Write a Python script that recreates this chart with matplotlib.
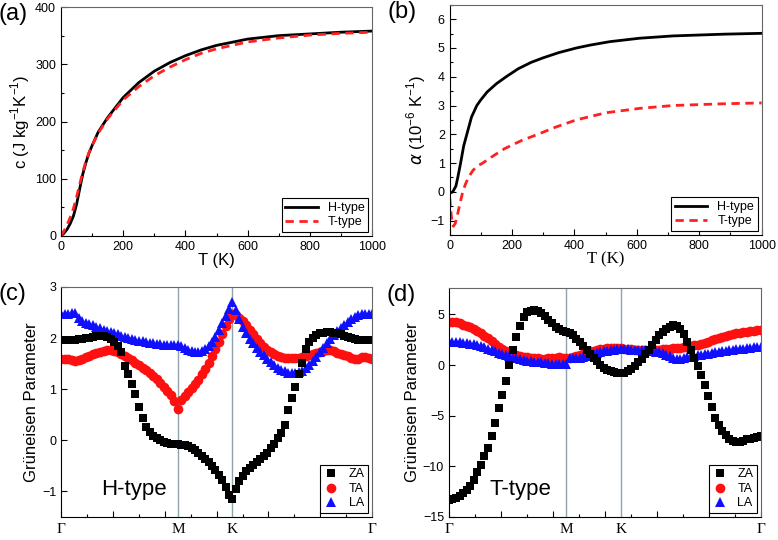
import numpy as np
import matplotlib.pyplot as plt
from matplotlib.ticker import MultipleLocator

plt.rcParams['font.family'] = ['Liberation Sans', 'DejaVu Sans']

# (a) specific heat
T_c = [0, 10, 20, 30, 40, 50, 60, 70, 80, 90, 100, 120, 150, 200, 250, 300, 350,
       400, 450, 500, 600, 700, 800, 900, 1000]
c_H = [0, 5, 12, 22, 35, 55, 82, 108, 128, 145, 158, 182, 207, 242, 268, 288, 303,
       315, 325, 333, 344, 350, 353, 356, 358]
c_T = [0, 9, 20, 33, 48, 68, 90, 112, 130, 146, 158, 180, 205, 238, 261, 280, 295,
       308, 319, 327, 339, 346, 351, 354, 356]

# (b) thermal expansion
T_aH = [0, 10, 20, 26, 35, 45, 55, 70, 87, 100, 120, 150, 181, 220, 261, 300, 350,
        406, 450, 513, 609, 716, 877, 1000]
a_H = [-0.05, 0.0, 0.2, 0.5, 1.0, 1.6, 2.0, 2.6, 3.0, 3.2, 3.47, 3.76, 4.0, 4.28,
       4.5, 4.66, 4.84, 5.0, 5.1, 5.22, 5.34, 5.42, 5.48, 5.51]
T_aT = [0, 4, 8, 12, 18, 25, 33, 42, 50, 60, 75, 90, 106, 140, 176, 230, 283, 340,
        406, 502, 609, 716, 877, 1000]
a_T = [-0.2, -0.7, -1.1, -1.2, -1.1, -0.8, -0.4, 0.0, 0.25, 0.5, 0.75, 0.9, 1.0,
       1.25, 1.5, 1.78, 2.0, 2.25, 2.5, 2.75, 2.9, 3.0, 3.06, 3.09]

# (c), (d) Grüneisen parameter along Γ-M-K-Γ (q-points per segment)
xM, xK = 0.376, 0.551
n1, n2, n3 = 34, 16, 40
q = np.concatenate([np.linspace(0, xM, n1),
                    np.linspace(xM, xK, n2 + 1)[1:],
                    np.linspace(xK, 1, n3 + 1)[1:]])

ZA_H = [1.96, 1.96, 1.96, 1.97, 1.97, 1.98, 1.99, 2.0, 2.01, 2.03, 2.04, 2.05, 2.04,
        2.02, 1.99, 1.93, 1.85, 1.72, 1.46, 1.29, 1.1, 0.9, 0.66, 0.44, 0.27, 0.16,
        0.09, 0.04, 0.0, -0.04, -0.06, -0.07, -0.08, -0.08,
        -0.09, -0.1, -0.12, -0.15, -0.19, -0.24, -0.3, -0.36, -0.43, -0.5, -0.58,
        -0.67, -0.78, -0.92, -1.06, -1.14,
        -0.95, -0.8, -0.69, -0.61, -0.55, -0.49, -0.43, -0.37, -0.31, -0.25, -0.16,
        -0.07, 0.04, 0.15, 0.3, 0.6, 0.82, 1.04, 1.3, 1.52, 1.78, 1.93, 2.01, 2.06,
        2.09, 2.1, 2.11, 2.11, 2.1, 2.09, 2.07, 2.05, 2.03, 2.01, 1.99, 1.97, 1.96,
        1.96, 1.96, 1.96]
TA_H = [1.6, 1.6, 1.59, 1.57, 1.55, 1.57, 1.6, 1.63, 1.65, 1.68, 1.7, 1.72, 1.75,
        1.76, 1.76, 1.74, 1.72, 1.69, 1.65, 1.61, 1.57, 1.52, 1.47, 1.42, 1.37, 1.31,
        1.26, 1.2, 1.13, 1.05, 0.97, 0.88, 0.77, 0.62,
        0.78, 0.87, 0.95, 1.02, 1.1, 1.18, 1.3, 1.4, 1.52, 1.65, 1.78, 1.92, 2.08,
        2.24, 2.38, 2.48,
        2.45, 2.4, 2.33, 2.25, 2.16, 2.07, 1.98, 1.9, 1.83, 1.77, 1.72, 1.68, 1.65,
        1.63, 1.62, 1.61, 1.61, 1.61, 1.62, 1.63, 1.65, 1.67, 1.69, 1.71, 1.73, 1.75,
        1.77, 1.76, 1.74, 1.71, 1.69, 1.67, 1.64, 1.61, 1.59, 1.6, 1.63, 1.63, 1.61,
        1.6]
LA_H = [2.48, 2.48, 2.48, 2.49, 2.5, 2.4, 2.33, 2.3, 2.28, 2.25, 2.22, 2.19, 2.16,
        2.14, 2.12, 2.1, 2.07, 2.05, 2.03, 2.01, 1.99, 1.97, 1.95, 1.94, 1.92, 1.91,
        1.9, 1.89, 1.88, 1.87, 1.86, 1.86, 1.86, 1.87,
        1.85, 1.81, 1.77, 1.74, 1.72, 1.72, 1.74, 1.78, 1.85, 1.93, 2.03, 2.15, 2.29,
        2.43, 2.57, 2.7,
        2.55, 2.38, 2.22, 2.1, 1.99, 1.9, 1.81, 1.73, 1.66, 1.59, 1.53, 1.47, 1.42,
        1.38, 1.35, 1.32, 1.31, 1.31, 1.33, 1.36, 1.41, 1.48, 1.56, 1.63, 1.72, 1.81,
        1.9, 1.98, 2.06, 2.13, 2.2, 2.26, 2.32, 2.37, 2.42, 2.45, 2.47, 2.48, 2.48,
        2.48]

ZA_T = [-13.36, -13.25, -13.1, -12.9, -12.65, -12.35, -11.95, -11.35, -10.6, -9.85,
        -9.0, -8.15, -7.0, -5.7, -4.26, -2.95, -1.55, 0.0, 1.49, 2.75, 3.9, 4.75,
        5.2, 5.38, 5.42, 5.3, 5.1, 4.8, 4.45, 4.11, 3.8, 3.55, 3.4, 3.3,
        3.2, 2.95, 2.6, 2.25, 1.9, 1.5, 1.05, 0.7, 0.35, 0.05, -0.25, -0.45, -0.62,
        -0.72, -0.78, -0.82,
        -0.75, -0.6, -0.4, -0.1, 0.25, 0.6, 1.05, 1.5, 2.0, 2.5, 2.95, 3.3, 3.58,
        3.8, 3.95, 3.85, 3.55, 3.05, 2.3, 1.5, 0.65, -0.05, -0.95, -1.95, -3.1,
        -4.15, -5.2, -5.95, -6.5, -6.95, -7.35, -7.5, -7.55, -7.55, -7.45, -7.35,
        -7.28, -7.2, -7.1, -7.05]
TA_T = [4.28, 4.25, 4.2, 4.1, 4.0, 3.88, 3.72, 3.55, 3.35, 3.12, 2.88, 2.62, 2.35,
        2.05, 1.8, 1.58, 1.38, 1.22, 1.08, 0.98, 0.9, 0.83, 0.77, 0.72, 0.68, 0.66,
        0.64, 0.64, 0.66, 0.7, 0.73, 0.75, 0.72, 0.68,
        0.72, 0.8, 0.9, 1.02, 1.13, 1.24, 1.34, 1.43, 1.5, 1.56, 1.61, 1.64, 1.66,
        1.67, 1.66, 1.65,
        1.62, 1.58, 1.55, 1.52, 1.5, 1.48, 1.48, 1.48, 1.49, 1.5, 1.52, 1.55, 1.57,
        1.6, 1.64, 1.68, 1.72, 1.77, 1.82, 1.88, 1.94, 2.0, 2.1, 2.2, 2.32, 2.43,
        2.55, 2.66, 2.77, 2.87, 2.96, 3.05, 3.12, 3.19, 3.25, 3.3, 3.35, 3.39, 3.43,
        3.46]
LA_T = [2.3, 2.29, 2.27, 2.25, 2.22, 2.17, 2.1, 2.03, 1.95, 1.85, 1.74, 1.62, 1.49,
        1.36, 1.23, 1.1, 0.97, 0.85, 0.74, 0.65, 0.57, 0.5, 0.44, 0.39, 0.34, 0.3,
        0.26, 0.22, 0.18, 0.15, 0.12, 0.1, 0.08, 0.07,
        0.66, 0.67, 0.7, 0.74, 0.8, 0.88, 0.98, 1.08, 1.18, 1.27, 1.35, 1.42, 1.47,
        1.51, 1.54, 1.55,
        1.55, 1.54, 1.53, 1.51, 1.49, 1.47, 1.45, 1.42, 1.38, 1.33, 1.25, 1.15, 1.03,
        0.88, 0.72, 0.6, 0.62, 0.72, 0.8, 0.87, 0.93, 0.98, 1.03, 1.08, 1.13, 1.18,
        1.24, 1.3, 1.36, 1.42, 1.48, 1.52, 1.56, 1.6, 1.63, 1.67, 1.71, 1.75, 1.78,
        1.81]

fig = plt.figure(figsize=(7.78, 5.4), dpi=100)
ax_a = fig.add_axes([0.0784, 0.563, 0.400, 0.424])
ax_b = fig.add_axes([0.578, 0.565, 0.401, 0.426])
ax_c = fig.add_axes([0.0784, 0.0426, 0.400, 0.426])
ax_d = fig.add_axes([0.577, 0.0426, 0.401, 0.424])


def style(ax):
    ax.tick_params(which='both', direction='in', top=False, right=False, labelsize=9)
    ax.tick_params(which='major', length=4, width=0.8)
    ax.tick_params(which='minor', length=2, width=0.8)
    for s in ['top', 'right']:
        ax.spines[s].set_color('#666666')
    for s in ['left', 'bottom']:
        ax.spines[s].set_color('black')


def legend(ax, handles=None, **kw):
    lg = ax.legend(handles=handles, loc='lower right', fontsize=9, fancybox=False,
                   framealpha=1, edgecolor='black', borderpad=0.3, labelspacing=0.2,
                   borderaxespad=0.3, **kw)
    lg.get_frame().set_linewidth(0.8)


# (a)
ax_a.plot(T_c, c_H, color='black', lw=2, label='H-type')
ax_a.plot(T_c, c_T, color='#ff2020', lw=2, ls=(0, (3, 2)), label='T-type')
ax_a.set_xlim(0, 1000)
ax_a.set_ylim(0, 400)
ax_a.xaxis.set_major_locator(MultipleLocator(200))
ax_a.xaxis.set_minor_locator(MultipleLocator(100))
ax_a.yaxis.set_major_locator(MultipleLocator(100))
ax_a.yaxis.set_minor_locator(MultipleLocator(50))
ax_a.set_xlabel('T (K)', fontsize=12, labelpad=0)
ax_a.set_ylabel(r'c (J kg$^{\mathregular{-1}}$K$^{\mathregular{-1}}$)', fontsize=12, labelpad=2)
style(ax_a)
legend(ax_a, handlelength=2.6)

# (b)
ax_b.plot(T_aH, a_H, color='black', lw=2, label='H-type')
ax_b.plot(T_aT, a_T, color='#ff2020', lw=2, ls=(0, (3, 2)), label='T-type')
ax_b.set_xlim(0, 1000)
ax_b.set_ylim(-1.5, 6.5)
ax_b.xaxis.set_major_locator(MultipleLocator(200))
ax_b.xaxis.set_minor_locator(MultipleLocator(100))
ax_b.yaxis.set_major_locator(MultipleLocator(1))
ax_b.yaxis.set_minor_locator(MultipleLocator(0.5))
ax_b.set_xlabel('T (K)', fontsize=12, family=['Liberation Serif'], labelpad=0)
ax_b.set_ylabel(r'$\alpha$ (10$^{\mathregular{-6}}$ K$^{\mathregular{-1}}$)', fontsize=12, labelpad=2)
style(ax_b)
legend(ax_b, handlelength=2.6)

# (c), (d)
for ax, za, ta, la, ylim, step, name in [
        (ax_c, ZA_H, TA_H, LA_H, (-1.5, 3), 1, 'H-type'),
        (ax_d, ZA_T, TA_T, LA_T, (-15, 7.6), 5, 'T-type')]:
    ax.axvline(xM, color='#8fa3ad', lw=1, zorder=0)
    ax.axvline(xK, color='#8fa3ad', lw=1, zorder=0)
    h_ta, = ax.plot(q, ta, 'o', color='#ff1010', ms=7, mew=0, label='TA')
    h_la, = ax.plot(q, la, '^', color='#1010ff', ms=7, mew=0, label='LA')
    h_za, = ax.plot(q, za, 's', color='black', ms=6, mew=0, label='ZA')
    ax.set_xlim(0, 1)
    ax.set_ylim(*ylim)
    ax.yaxis.set_major_locator(MultipleLocator(step))
    ax.xaxis.set_major_locator(MultipleLocator(1 / 6))
    ax.xaxis.set_minor_locator(MultipleLocator(1 / 12))
    ax.set_xticklabels([])
    ax.set_ylabel('Grüneisen Parameter', fontsize=12, labelpad=2)
    style(ax)
    for xp, lab in [(0, 'Γ'), (xM, 'M'), (xK, 'K'), (1, 'Γ')]:
        ax.text(xp, -0.025, lab, transform=ax.get_xaxis_transform(), ha='center',
                va='top', fontsize=11, family=['Liberation Serif'])
    ax.text(0.13, 0.12, name, transform=ax.transAxes, ha='left', va='center', fontsize=16)
    legend(ax, handles=[h_za, h_ta, h_la], handlelength=1.2, handletextpad=0.8)

for ax, lab in [(ax_a, '(a)'), (ax_b, '(b)'), (ax_c, '(c)'), (ax_d, '(d)')]:
    ax.text(-0.2, 0.97, lab, transform=ax.transAxes, fontsize=17, va='center', ha='left')

fig.savefig('out.png', dpi=100)
